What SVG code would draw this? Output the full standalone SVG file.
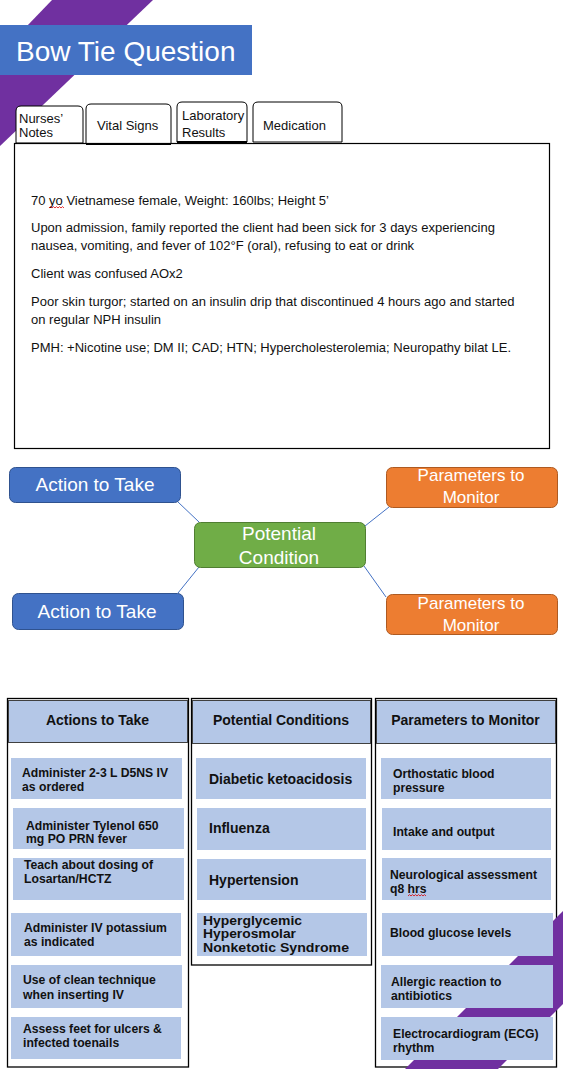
<svg xmlns="http://www.w3.org/2000/svg" width="575" height="1085" viewBox="0 0 575 1085">
<defs>
<style>
text{font-family:"Liberation Sans",Arial,sans-serif}
.ribbon{fill:#7030A0}
.tab{fill:#fff;stroke:#000;stroke-width:1}
.tabline{stroke:#000;stroke-width:2}
.tt{font-size:13px;fill:#111}
.note{font-size:13px;fill:#111}
.bt-blue{fill:#4472C4;stroke:#2F528F;stroke-width:1}
.bt-green{fill:#70AD47;stroke:#507E32;stroke-width:1}
.bt-orange{fill:#ED7D31;stroke:#AE5A21;stroke-width:1}
.btt{fill:#fff;font-size:19px;text-anchor:middle}
.bto{fill:#fff;font-size:17px;text-anchor:middle}
.col{fill:#fff;stroke:#000;stroke-width:1.3}
.hdr{fill:#B4C7E7;stroke:#404040;stroke-width:1}
.ht{font-weight:bold;font-size:14px;text-anchor:middle;fill:#111}
.cell{fill:#B4C7E7}
.ct{font-weight:bold;font-size:12.2px;fill:#111}
.pc{font-weight:bold;font-size:14px;fill:#111}
.pcs{font-weight:bold;font-size:13px;fill:#111}
.sq{fill:none;stroke:#d00;stroke-width:0.8}
.conn{stroke:#4472C4;stroke-width:1;fill:none}
</style>
</defs>
<rect x="0" y="0" width="575" height="1085" fill="#fff"/>

<!-- decorative ribbon top-left -->
<polygon class="ribbon" points="52,0 153,0 0,146 0,54"/>

<g id="title">
<rect x="0" y="25" width="252" height="50" fill="#4472C4"/>
<text x="16" y="61" font-size="28" fill="#fff">Bow Tie Question</text>
</g>

<g id="tab-nurses">
<path class="tab" d="M16,143 V111 Q16,106 21,106 H78 Q83,106 83,111 V143 Z"/>
<text class="tt" x="19" y="122.5">Nurses’</text>
<text class="tt" x="19" y="137">Notes</text>
</g>
<g id="tab-vitals">
<path class="tab" d="M86,144 V109 Q86,104 91,104 H166 Q171,104 171,109 V144 Z"/>
<line class="tabline" x1="86" y1="144" x2="171" y2="144"/>
<text class="tt" x="97" y="130" font-size="12.5">Vital Signs</text>
</g>
<g id="tab-lab">
<path class="tab" d="M177,142 V107 Q177,102 182,102 H242 Q247,102 247,107 V142 Z"/>
<line class="tabline" x1="177" y1="142" x2="247" y2="142"/>
<text class="tt" x="182" y="120" font-size="11.5">Laboratory</text>
<text class="tt" x="182" y="136.5" font-size="11.5">Results</text>
</g>
<g id="tab-medication">
<path class="tab" d="M253,142 V107 Q253,102 258,102 H337 Q342,102 342,107 V142 Z"/>
<text class="tt" x="263" y="129.5">Medication</text>
</g>

<g id="notes">
<rect x="14.5" y="143.5" width="535" height="305" fill="none" stroke="#000" stroke-width="1.2"/>
<text class="note" x="31" y="205">70 yo Vietnamese female, Weight: 160lbs; Height 5’</text>
<polyline class="sq" points="49,208 50.5,206.6 52,208 53.5,206.6 55,208 56.5,206.6 58,208 59.5,206.6 61,208 62.5,206.6 64,208"/>
<text class="note" x="31" y="232">Upon admission, family reported the client had been sick for 3 days experiencing</text>
<text class="note" x="31" y="250">nausea, vomiting, and fever of 102°F (oral), refusing to eat or drink</text>
<text class="note" x="31" y="278">Client was confused AOx2</text>
<text class="note" x="31" y="306">Poor skin turgor; started on an insulin drip that discontinued 4 hours ago and started</text>
<text class="note" x="31" y="324">on regular NPH insulin</text>
<text class="note" x="31" y="352">PMH: +Nicotine use; DM II; CAD; HTN; Hypercholesterolemia; Neuropathy bilat LE.</text>
</g>

<g id="connectors">
<line class="conn" x1="178" y1="502" x2="199" y2="522"/>
<line class="conn" x1="178" y1="593" x2="199" y2="567"/>
<line class="conn" x1="365" y1="526" x2="389" y2="507"/>
<line class="conn" x1="364" y1="566" x2="386" y2="597"/>
</g>

<g id="action-top">
<rect class="bt-blue" x="9.5" y="467.5" width="171" height="35" rx="6"/>
<text class="btt" x="95" y="491">Action to Take</text>
</g>
<g id="action-bottom">
<rect class="bt-blue" x="12.5" y="593.5" width="171" height="36" rx="6"/>
<text class="btt" x="97" y="618">Action to Take</text>
</g>
<g id="potential-condition">
<rect class="bt-green" x="194.5" y="522.5" width="171" height="45" rx="6"/>
<text class="btt" x="279" y="539.5">Potential</text>
<text class="btt" x="279" y="564">Condition</text>
</g>
<g id="params-top">
<rect class="bt-orange" x="386.5" y="467.5" width="171" height="40" rx="6"/>
<text class="bto" x="471" y="481">Parameters to</text>
<text class="bto" x="471" y="502.5">Monitor</text>
</g>
<g id="params-bottom">
<rect class="bt-orange" x="386.5" y="594.5" width="171" height="40" rx="6"/>
<text class="bto" x="471" y="609">Parameters to</text>
<text class="bto" x="471" y="630.5">Monitor</text>
</g>

<!-- table columns -->
<g id="col-actions-frame">
<rect class="col" x="7.5" y="698.5" width="181" height="368.5"/>
</g>
<g id="col-conditions-frame">
<rect class="col" x="191.5" y="698.5" width="180" height="266.5"/>
</g>
<g id="col-params-frame">
<rect class="col" x="375.5" y="698.5" width="181" height="368.5"/>
</g>

<!-- decorative ribbon bottom-right -->
<polygon class="ribbon" points="405,1069 498,1069 563,1004 563,911"/>

<g id="hdr-actions">
<rect class="hdr" x="8.5" y="700.5" width="179" height="42"/>
<text class="ht" x="97.5" y="725">Actions to Take</text>
</g>
<g id="hdr-conditions">
<rect class="hdr" x="192.5" y="700.5" width="178" height="43"/>
<text class="ht" x="281" y="725">Potential Conditions</text>
</g>
<g id="hdr-params">
<rect class="hdr" x="376.5" y="700.5" width="179" height="43"/>
<text class="ht" x="465.5" y="725">Parameters to Monitor</text>
</g>

<!-- Actions -->
<g id="act-1">
<rect class="cell" x="11" y="758" width="171" height="41"/>
<text class="ct" x="22" y="777">Administer 2-3 L D5NS IV</text>
<text class="ct" x="22" y="790.5">as ordered</text>
</g>
<g id="act-2">
<rect class="cell" x="13" y="808" width="171" height="41"/>
<text class="ct" x="26" y="829.5">Administer Tylenol 650</text>
<text class="ct" x="26" y="843">mg PO PRN fever</text>
</g>
<g id="act-3">
<rect class="cell" x="13" y="858" width="171" height="42"/>
<text class="ct" x="24" y="868.5">Teach about dosing of</text>
<text class="ct" x="24" y="883">Losartan/HCTZ</text>
</g>
<g id="act-4">
<rect class="cell" x="11" y="913" width="170" height="43"/>
<text class="ct" x="24" y="931.5">Administer IV potassium</text>
<text class="ct" x="24" y="945.5">as indicated</text>
</g>
<g id="act-5">
<rect class="cell" x="11" y="965" width="171" height="43"/>
<text class="ct" x="23" y="984">Use of clean technique</text>
<text class="ct" x="23" y="998.5">when inserting IV</text>
</g>
<g id="act-6">
<rect class="cell" x="11" y="1017" width="170" height="42"/>
<text class="ct" x="23" y="1032.5">Assess feet for ulcers &amp;</text>
<text class="ct" x="23" y="1046.5">infected toenails</text>
</g>

<!-- Conditions -->
<g id="cond-1">
<rect class="cell" x="196" y="758" width="170" height="41"/>
<text class="pc" x="209" y="784">Diabetic ketoacidosis</text>
</g>
<g id="cond-2">
<rect class="cell" x="197" y="808" width="169" height="42"/>
<text class="pc" x="209" y="833">Influenza</text>
</g>
<g id="cond-3">
<rect class="cell" x="197" y="859" width="169" height="41"/>
<text class="pc" x="209" y="885">Hypertension</text>
</g>
<g id="cond-4">
<rect class="cell" x="197" y="913" width="170" height="43"/>
<text class="pcs" x="203" y="924.5" textLength="99" lengthAdjust="spacingAndGlyphs">Hyperglycemic</text>
<text class="pcs" x="203" y="938" textLength="93" lengthAdjust="spacingAndGlyphs">Hyperosmolar</text>
<text class="pcs" x="203" y="951.5" textLength="146" lengthAdjust="spacingAndGlyphs">Nonketotic Syndrome</text>
</g>

<!-- Parameters -->
<g id="par-1">
<rect class="cell" x="381" y="758" width="170" height="41"/>
<text class="ct" x="393" y="778">Orthostatic blood</text>
<text class="ct" x="393" y="791.5">pressure</text>
</g>
<g id="par-2">
<rect class="cell" x="382" y="808" width="169" height="42"/>
<text class="ct" x="393" y="836">Intake and output</text>
</g>
<g id="par-3">
<rect class="cell" x="382" y="858" width="169" height="42"/>
<text class="ct" x="390" y="879">Neurological assessment</text>
<text class="ct" x="390" y="893">q8 hrs</text>
<polyline class="sq" points="408,896 409.5,894.6 411,896 412.5,894.6 414,896 415.5,894.6 417,896 418.5,894.6 420,896 421.5,894.6 423,896 424.5,894.6 426,896"/>
</g>
<g id="par-4">
<rect class="cell" x="382" y="913" width="171" height="43"/>
<text class="ct" x="390" y="937">Blood glucose levels</text>
</g>
<g id="par-5">
<rect class="cell" x="381" y="965" width="172" height="43"/>
<text class="ct" x="391" y="986">Allergic reaction to</text>
<text class="ct" x="391" y="1000">antibiotics</text>
</g>
<g id="par-6">
<rect class="cell" x="381" y="1017" width="172" height="43"/>
<text class="ct" x="393" y="1037.5">Electrocardiogram (ECG)</text>
<text class="ct" x="393" y="1051.5">rhythm</text>
</g>
</svg>
